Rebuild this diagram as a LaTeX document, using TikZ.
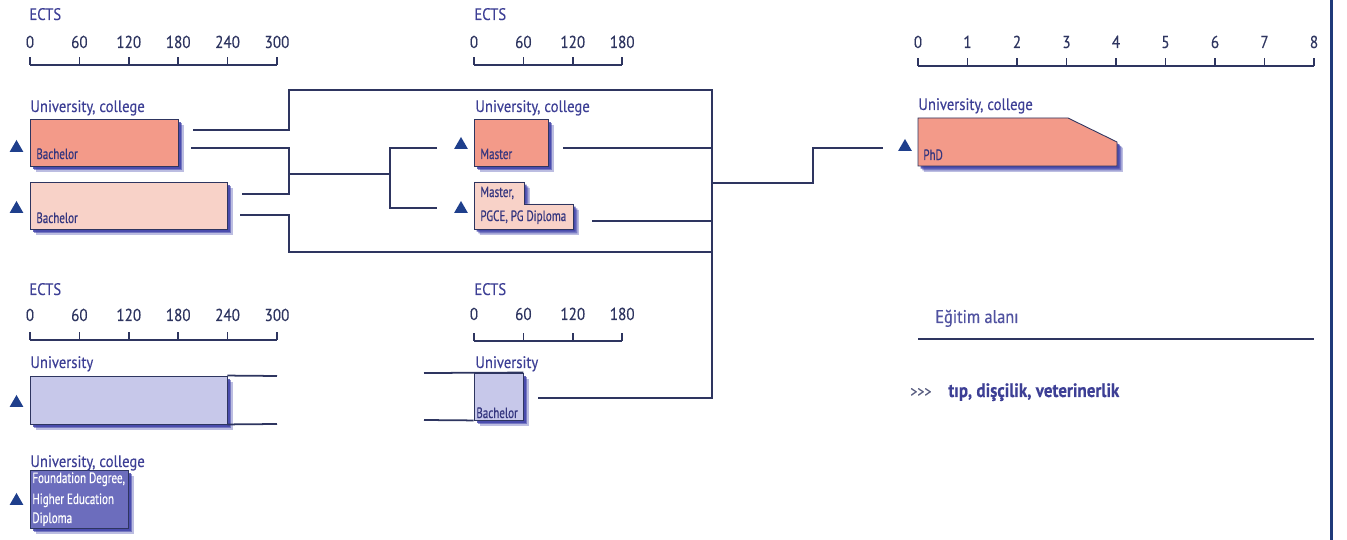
\documentclass[tikz,border=0pt]{standalone}
\usepackage{fontspec}
\setmainfont{PT Sans}[FakeStretch=0.88, FakeBold=0.3]
\newfontfamily\degfont{PT Sans}[FakeStretch=0.74, FakeBold=0.5]
\usetikzlibrary{fit, shadows, shapes.geometric}

\definecolor{navy}{HTML}{2E3560}
\definecolor{labelblue}{HTML}{3D3F95}
\definecolor{salmon}{HTML}{F39A89}
\definecolor{blush}{HTML}{F8D2C8}
\definecolor{lavender}{HTML}{C7C8EA}
\definecolor{violet}{HTML}{6C6DBD}
\definecolor{shadowblue}{HTML}{3F41A8}
\definecolor{frameblue}{HTML}{1F3A7A}
\definecolor{tri}{HTML}{1F3F8C}

\begin{document}
\begin{tikzpicture}[
        x=0.02cm, y=-0.02cm,
        link/.style={draw=navy, line width=1pt},
        degree/.style={
            draw=navy,
            line width=0.5pt,
            inner sep=0pt,
            drop shadow={shadow xshift=3.4pt, shadow yshift=-3.4pt,
                fill=shadowblue, opacity=0.35},
            drop shadow={shadow xshift=2.5pt, shadow yshift=-2.5pt,
                fill=shadowblue, opacity=0.55},
            drop shadow={shadow xshift=1.5pt, shadow yshift=-1.5pt,
                fill=shadowblue, opacity=0.8}
        },
        inst/.style={font=\fontsize{9.5}{10}\selectfont, text=labelblue,
            anchor=base west, inner sep=0pt},
        degname/.style={font=\degfont\fontsize{8.5}{9}\selectfont,
            text=labelblue!85!black, anchor=base west, inner sep=0pt},
        num/.style={font=\fontsize{9.8}{10}\selectfont, text=navy,
            anchor=base, inner sep=0pt},
        entrytri/.style={regular polygon, regular polygon sides=3,
            fill=tri, inner sep=0pt, minimum size=0.32cm}
    ]
    \useasboundingbox (0,0) rectangle (1347,540);

    % ECTS scales
    \node[inst] (ects-a) at (29,20) {ECTS};
    \draw[link] (30,65) -- (277,65);
    \foreach \k/\v in {0/0,1/60,2/120,3/180,4/240,5/300} {
        \draw[link] (30+49.4*\k,65) -- ++(0,-8);
        \node[num] (sa-\k) at (30+49.4*\k,48) {\v};
    }
    \node[inst] (ects-b) at (474,20) {ECTS};
    \draw[link] (474,65) -- (622,65);
    \foreach \k/\v in {0/0,1/60,2/120,3/180} {
        \draw[link] (474+49.4*\k,65) -- ++(0,-8);
        \node[num] (sb-\k) at (474+49.4*\k,48) {\v};
    }
    \draw[link] (918,66) -- (1314,66);
    \foreach \k in {0,...,8} {
        \draw[link] (918+49.5*\k,66) -- ++(0,-8);
        \node[num] (sc-\k) at (918+49.5*\k,48) {\k};
    }
    \node[inst] (ects-d) at (29,295) {ECTS};
    \draw[link] (30,340) -- (277,340);
    \foreach \k/\v in {0/0,1/60,2/120,3/180,4/240,5/300} {
        \draw[link] (30+49.4*\k,340) -- ++(0,-8);
        \node[num] (sd-\k) at (30+49.4*\k,321) {\v};
    }
    \node[inst] (ects-e) at (474,295) {ECTS};
    \draw[link] (474,341) -- (622,341);
    \foreach \k/\v in {0/0,1/60,2/120,3/180} {
        \draw[link] (474+49.4*\k,341) -- ++(0,-8);
        \node[num] (se-\k) at (474+49.4*\k,320) {\v};
    }

    % Degree boxes
    \node[degree, fill=salmon, fit={(30,119) (178,166)}] (bach1) {};
    \node[degree, fill=blush, fit={(30,182) (227,229)}] (bach2) {};
    \node[degree, fill=salmon, fit={(474,119) (548,166)}] (mast1) {};
    \filldraw[degree, fill=blush] (474,182) -- (524,182) -- (524,204)
        -- (573,204) -- (573,229) -- (474,229) -- cycle;
    \filldraw[degree, fill=salmon] (918,118) -- (1068,118) -- (1117,142)
        -- (1117,166) -- (918,166) -- cycle;
    \node[degree, fill=lavender, fit={(30,376) (227,424)}] (uni4) {};
    \node[degree, fill=lavender, fit={(474,373) (523,420)}] (ubach) {};
    \node[degree, fill=violet, fit={(30,470) (128,528)}] (found) {};

    % Institutions
    \node[inst] (inst-b) at (30,112) {University, college};
    \node[inst] (inst-m) at (475,112) {University, college};
    \node[inst] (inst-p) at (918,110) {University, college};
    \node[inst] (inst-u) at (30,368) {University};
    \node[inst] (inst-ub) at (475,368) {University};
    \node[inst] (inst-f) at (30,467) {University, college};

    % Degree names
    \node[degname] (n-bach1) at (36,159) {Bachelor};
    \node[degname] (n-bach2) at (36,223) {Bachelor};
    \node[degname] (n-mast1) at (480,159) {Master};
    \node[degname] (n-mast2a) at (480,197) {Master,};
    \node[degname] (n-mast2b) at (480,221) {PGCE, PG Diploma};
    \node[degname] (n-phd) at (923,160) {PhD};
    \node[degname] (n-ubach) at (476,418) {Bachelor};
    \node[degname, text=white] (n-found1) at (32,483) {Foundation Degree,};
    \node[degname, text=white] (n-found2) at (32,504) {Higher Education};
    \node[degname, text=white] (n-found3) at (32,523) {Diploma};

    % Entry markers
    \node[entrytri] (t-bach1) at (16.5,148) {};
    \node[entrytri] (t-bach2) at (16.5,209) {};
    \node[entrytri] (t-mast1) at (461,145) {};
    \node[entrytri] (t-mast2) at (461,209) {};
    \node[entrytri] (t-phd) at (905,147) {};
    \node[entrytri] (t-uni4) at (16.5,403) {};
    \node[entrytri] (t-found) at (16.5,501) {};

    % Connector points
    \coordinate (b1-hi) at (193,130);
    \coordinate (b1-lo) at (191,148);
    \coordinate (b2-hi) at (242,194);
    \coordinate (b2-lo) at (240,215);
    \coordinate (top-knee) at (289,90);
    \coordinate (fork) at (289,174);
    \coordinate (low-knee) at (289,252);
    \coordinate (split) at (390,174);
    \coordinate (m1-in) at (437,148);
    \coordinate (m2-in) at (437,208);
    \coordinate (m1-out) at (563,148);
    \coordinate (m2-out) at (592,221);
    \coordinate (rail-top) at (712,90);
    \coordinate (rail-bot) at (712,398);
    \coordinate (ub-out) at (538,398);
    \coordinate (rail-exit) at (712,183);
    \coordinate (phd-knee) at (813,183);
    \coordinate (phd-in) at (883,148);
    \coordinate (u4-top) at (277,376);
    \coordinate (u4-bot) at (277,424);
    \coordinate (ub-top) at (424,373);
    \coordinate (ub-bot) at (424,420);

    % Connectors
    \draw[link] (b1-hi) -| (top-knee) -- (rail-top) -- (rail-bot) -- (ub-out);
    \draw[link] (b1-lo) -| (fork) |- (b2-hi);
    \draw[link] (fork) -- (split);
    \draw[link] (m1-in) -| (split) |- (m2-in);
    \draw[link] (b2-lo) -| (low-knee) -- (low-knee -| rail-top);
    \draw[link] (m1-out) -- (m1-out -| rail-top);
    \draw[link] (m2-out) -- (m2-out -| rail-top);
    \draw[link] (rail-exit) -- (phd-knee) |- (phd-in);
    \draw[link] (uni4.north east) -- (u4-top);
    \draw[link] (uni4.south east) -- (u4-bot);
    \draw[link] (ub-top) -- (ubach.north east);
    \draw[link] (ub-bot) -- (ubach.south west);

    % Field of study
    \node[inst, font=\fontsize{10.5}{11}\selectfont, text=labelblue!90]
        (field) at (935,323) {Eğitim alanı};
    \draw[link] (918,339) -- (1314,339);
    \node[inst, font=\fontsize{9}{10}\selectfont, text=navy!80]
        (more) at (910,397) {{>}{>}{>}};
    \node[inst, font=\bfseries\fontsize{11}{12}\selectfont, text=labelblue]
        (fields) at (948,397) {tıp, dişçilik, veterinerlik};

    % Right frame
    \draw[frameblue, line width=1.7pt] (1331,0) -- (1331,540);
\end{tikzpicture}
\end{document}
